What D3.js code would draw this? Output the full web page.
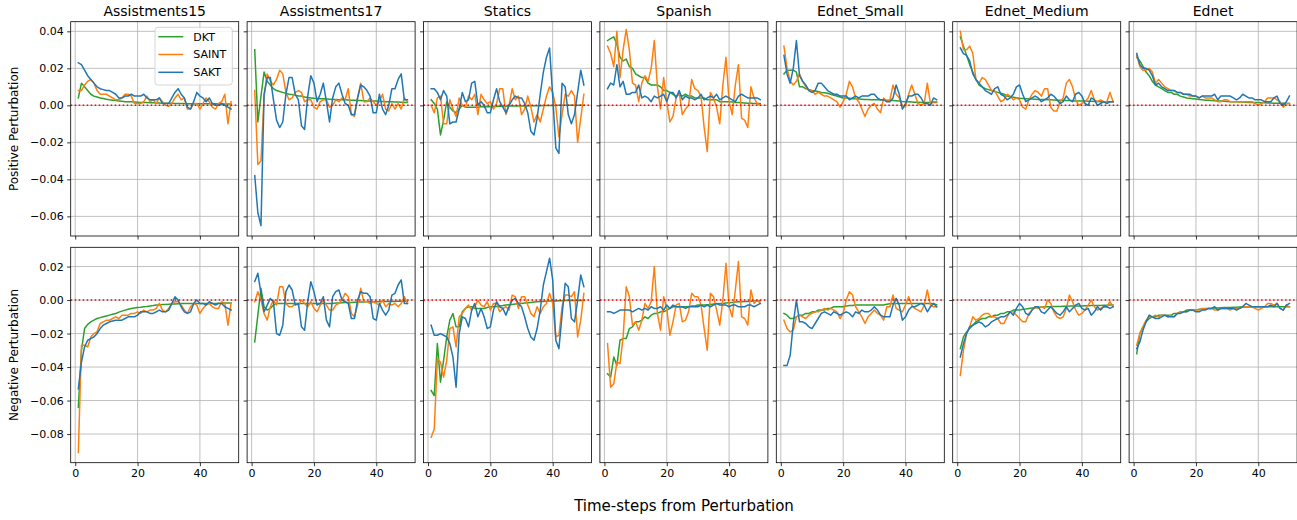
<!DOCTYPE html>
<html>
<head>
<meta charset="utf-8">
<script src="https://cdn.jsdelivr.net/npm/d3@7"></script>
<style>
  body { margin: 0; background: #fff; }
  svg { font-family: "DejaVu Sans", sans-serif; }
</style>
</head>
<body>
<div id="chart"></div>
<script>
// categories / series
var datasets = ["Assistments15", "Assistments17", "Statics", "Spanish", "Ednet_Small", "Ednet_Medium", "Ednet"];
var models = ["DKT", "SAINT", "SAKT"];
var steps = d3.range(1, 51);
var xTicks = [0, 20, 40];
var posTicks = [-0.06, -0.04, -0.02, 0, 0.02, 0.04];
var negTicks = [-0.08, -0.06, -0.04, -0.02, 0, 0.02];

// ---- Assistments15
var a15PosDKT = [0.004,0.012,0.010,0.008,0.006,0.005,0.0045,0.004,0.0037,0.0033, 0.003,0.0028,0.0026,0.0024,0.0022,0.002,0.002,0.0019,0.0018,0.0017, 0.0016,0.0015,0.0015,0.0014,0.0014,0.0013,0.0013,0.0012,0.0012,0.0011, 0.0011,0.001,0.001,0.001,0.001,0.0009,0.0009,0.0009,0.0009,0.0008, 0.0008,0.0008,0.0008,0.0008,0.0008,0.0007,0.0007,0.0007,0.0007,0.0007];
var a15PosSAINT = [0.008,0.008,0.011,0.013,0.014,0.012,0.008,0.006,0.006,0.006, 0.005,0.004,0.003,0.003,0.004,0.006,0.006,0.005,0.001,0.001, 0.001,0.002,0.005,0.002,0.003,0.001,0.004,0.002,0.000,-0.0005, 0.001,0.004,0.006,0.003,0.004,-0.002,-0.002,0.001,0.001,-0.002, 0.001,0.004,0.002,-0.001,-0.002,0.001,0.002,0.006,-0.010,0.002];
var a15PosSAKT = [0.023,0.022,0.019,0.016,0.014,0.012,0.010,0.009,0.0085,0.008, 0.008,0.007,0.006,0.004,0.004,0.005,0.005,0.006,0.005,0.005, 0.005,0.006,0.004,0.003,0.003,0.003,0.004,0.001,0.001,0.001, 0.004,0.007,0.009,0.006,0.004,-0.001,-0.002,0.002,0.007,0.005, 0.004,0.002,0.004,0.001,0.000,0.000,0.001,0.000,-0.001,-0.002];
var a15NegDKT = [-0.064,-0.030,-0.017,-0.0145,-0.013,-0.012,-0.011,-0.0105,-0.010,-0.0095, -0.009,-0.0085,-0.008,-0.0072,-0.0066,-0.006,-0.0055,-0.005,-0.0047,-0.0045, -0.0043,-0.004,-0.0038,-0.0035,-0.0033,-0.003,-0.0029,-0.0027,-0.0026,-0.0025, -0.0024,-0.0023,-0.0022,-0.0021,-0.002,-0.002,-0.002,-0.002,-0.002,-0.002, -0.002,-0.002,-0.002,-0.002,-0.002,-0.0019,-0.0019,-0.0018,-0.0018,-0.0018];
var a15NegSAINT = [-0.091,-0.027,-0.027,-0.028,-0.022,-0.020,-0.019,-0.014,-0.013,-0.012, -0.012,-0.011,-0.010,-0.011,-0.009,-0.009,-0.009,-0.008,-0.008,-0.007, -0.008,-0.006,-0.007,-0.006,-0.006,-0.005,-0.002,-0.006,-0.007,-0.005, -0.002,-0.001,-0.001,-0.003,-0.006,-0.008,-0.004,-0.002,-0.003,-0.008, -0.005,-0.003,-0.002,-0.004,-0.005,-0.005,-0.001,-0.002,-0.015,-0.002];
var a15NegSAKT = [-0.053,-0.037,-0.028,-0.024,-0.023,-0.022,-0.020,-0.017,-0.015,-0.014, -0.013,-0.0125,-0.012,-0.012,-0.012,-0.011,-0.010,-0.010,-0.010,-0.009, -0.007,-0.007,-0.007,-0.008,-0.008,-0.007,-0.006,-0.007,-0.007,-0.006, -0.002,0.002,0.000,-0.004,-0.007,-0.008,-0.007,-0.002,0.000,-0.002, -0.002,-0.003,-0.001,-0.002,-0.003,-0.002,-0.002,-0.004,-0.005,-0.006];

// ---- Assistments17
var a17PosDKT = [0.030,-0.009,0.005,0.018,0.013,0.011,0.009,0.008,0.0075,0.007, 0.0065,0.006,0.0058,0.0055,0.005,0.005,0.0045,0.0042,0.004,0.0038, 0.0037,0.0036,0.0035,0.0034,0.0033,0.0032,0.0031,0.003,0.003,0.003, 0.0029,0.0028,0.0027,0.0026,0.0026,0.0025,0.0024,0.0024,0.0023,0.0023, 0.0022,0.0021,0.002,0.002,0.0019,0.0018,0.0018,0.0017,0.0016,0.0016];
var a17PosSAINT = [0.008,-0.032,-0.030,0.005,0.017,0.013,0.011,0.014,0.019,0.017, 0.007,0.003,0.004,0.007,0.008,0.007,0.002,0.003,0.003,-0.001, -0.002,0.002,0.003,0.003,-0.001,0.000,0.003,0.002,0.004,0.003, 0.009,-0.005,-0.006,0.004,0.012,0.002,0.002,0.004,0.002,0.000, 0.002,0.006,-0.002,-0.003,0.001,-0.002,0.001,-0.002,0.004,0.002];
var a17PosSAKT = [-0.038,-0.058,-0.065,0.006,0.015,0.015,0.003,-0.008,-0.012,-0.009, 0.006,0.015,0.015,0.006,0.003,-0.011,-0.013,0.005,0.016,0.012, 0.002,0.006,0.012,0.002,-0.009,0.004,0.010,0.012,0.006,0.001, 0.000,-0.005,-0.005,0.004,0.011,0.010,0.008,0.005,-0.004,-0.004, 0.006,-0.002,-0.005,0.000,0.009,0.009,0.014,0.017,0.003,0.003];
var a17NegDKT = [-0.025,-0.009,0.007,-0.004,-0.006,-0.005,-0.003,-0.002,-0.002,-0.002, -0.002,-0.002,-0.002,-0.002,-0.002,-0.002,-0.002,-0.002,-0.002,-0.002, -0.002,-0.002,-0.002,-0.002,-0.002,-0.002,-0.0018,-0.0017,-0.0016,-0.0015, -0.0015,-0.0014,-0.0013,-0.0012,-0.0012,-0.0011,-0.001,-0.001,-0.001,-0.001, -0.001,-0.0009,-0.0009,-0.0008,-0.0008,-0.0008,-0.0007,-0.0007,-0.0007,-0.0007];
var a17NegSAINT = [-0.001,0.005,0.000,-0.008,-0.012,-0.004,0.000,-0.003,0.008,0.008, -0.002,-0.004,-0.004,-0.002,-0.003,0.000,-0.002,-0.004,-0.001,-0.005, -0.007,-0.003,0.000,-0.003,-0.006,-0.006,-0.003,-0.002,0.000,0.004, 0.002,-0.008,-0.010,-0.003,0.007,-0.001,-0.001,-0.002,-0.001,-0.002, -0.003,0.000,-0.004,-0.002,-0.003,-0.002,-0.004,-0.002,0.002,-0.002];
var a17NegSAKT = [0.011,0.016,0.004,-0.007,-0.003,0.001,-0.001,-0.020,-0.021,-0.015, 0.005,0.009,0.006,-0.003,-0.002,-0.016,-0.018,-0.001,0.011,0.005, -0.003,-0.002,0.002,-0.012,-0.016,0.002,0.005,0.006,0.000,-0.001, -0.002,-0.011,-0.011,0.000,0.005,0.004,0.004,0.002,-0.011,-0.012, -0.002,-0.006,-0.009,-0.006,0.003,0.004,0.009,0.012,-0.002,-0.002];

// ---- Statics
var stPosDKT = [0.003,0.001,-0.002,-0.016,-0.008,0.002,-0.001,-0.003,-0.004,-0.002, 0.000,-0.001,-0.001,-0.001,-0.001,-0.001,-0.0008,-0.0008,-0.0007,-0.0007, -0.0006,-0.0006,-0.0005,-0.0005,-0.0005,-0.0004,-0.0004,-0.0004,-0.0003,-0.0003, -0.0003,-0.0003,-0.0002,-0.0002,-0.0002,-0.0002,-0.0001,-0.0001,-0.0001,-0.0001, -0.0001,0,0,0,0,0,0,0,0,0];
var stPosSAINT = [0.000,-0.004,0.004,0.005,-0.010,-0.010,0.003,-0.002,-0.006,0.004, 0.000,-0.001,0.005,0.003,0.006,-0.005,0.006,0.003,0.001,0.002, -0.002,0.001,0.009,0.009,-0.005,0.000,0.009,0.003,0.005,-0.005, -0.002,0.005,-0.001,-0.009,-0.005,-0.009,-0.002,0.005,0.010,0.007, -0.001,-0.017,-0.005,0.006,0.005,0.008,0.005,-0.020,-0.007,0.006];
var stPosSAKT = [0.009,0.009,0.007,0.003,0.008,0.005,-0.010,-0.009,-0.009,-0.002, 0.007,0.002,0.003,0.012,0.013,0.000,0.002,0.000,-0.004,-0.004, 0.003,0.009,0.002,-0.001,-0.004,0.000,0.003,0.005,0.004,0.004, 0.001,-0.004,-0.014,-0.016,-0.007,0.006,0.018,0.026,0.031,0.005, -0.023,-0.026,0.012,0.010,-0.005,-0.010,-0.005,0.007,0.019,0.011];
var stNegDKT = [-0.054,-0.057,-0.026,-0.049,-0.036,-0.022,-0.012,-0.008,-0.016,-0.016, -0.007,-0.005,-0.004,-0.004,-0.005,-0.005,-0.005,-0.005,-0.0045,-0.004, -0.004,-0.0038,-0.0035,-0.0033,-0.003,-0.0028,-0.0026,-0.0024,-0.0022,-0.002, -0.0018,-0.0016,-0.0014,-0.0012,-0.001,-0.0009,-0.0008,-0.0007,-0.0006,-0.0005, -0.0005,-0.0004,-0.0004,-0.0003,-0.0003,-0.0003,-0.0002,-0.0002,-0.0002,-0.0002];
var stNegSAINT = [-0.082,-0.077,-0.035,-0.037,-0.046,-0.036,-0.017,-0.016,-0.028,-0.010, -0.008,-0.005,-0.003,-0.006,-0.004,0.000,-0.003,-0.004,-0.001,-0.006, -0.002,-0.002,-0.007,-0.005,-0.004,-0.006,0.003,0.002,-0.005,0.002, 0.002,-0.003,-0.008,-0.010,-0.004,-0.008,-0.004,-0.002,0.004,-0.002, -0.022,-0.021,-0.004,0.003,0.003,0.002,0.005,-0.022,-0.012,0.004];
var stNegSAKT = [-0.015,-0.021,-0.021,-0.020,-0.021,-0.022,-0.026,-0.034,-0.052,-0.020, -0.010,-0.011,-0.016,-0.006,-0.002,-0.010,-0.005,-0.010,-0.017,-0.016, -0.006,-0.001,-0.004,-0.005,-0.009,-0.004,0.000,0.001,-0.002,-0.004, -0.010,-0.017,-0.022,-0.024,-0.017,-0.006,0.009,0.017,0.025,0.012, -0.024,-0.029,-0.009,0.010,0.008,-0.011,-0.013,0.000,0.015,0.008];

// ---- Spanish
var spPosDKT = [0.035,0.036,0.037,0.033,0.026,0.024,0.025,0.021,0.020,0.017, 0.016,0.015,0.015,0.012,0.011,0.011,0.011,0.010,0.008,0.008, 0.007,0.006,0.005,0.006,0.005,0.006,0.005,0.005,0.004,0.004, 0.004,0.004,0.003,0.003,0.003,0.003,0.002,0.002,0.002,0.002, 0.0018,0.0016,0.0015,0.0014,0.0013,0.0012,0.0011,0.001,0.001,0.001];
var spPosSAINT = [0.032,0.028,0.021,0.040,0.015,0.030,0.041,0.030,0.012,0.011, 0.002,0.012,0.016,0.013,0.020,0.035,0.010,-0.002,0.015,0.002, -0.009,-0.006,0.004,0.007,-0.005,-0.002,0.000,0.014,0.009,0.008, 0.005,-0.012,-0.025,0.007,0.004,-0.001,-0.010,0.011,0.026,0.002, -0.005,0.011,0.022,-0.007,-0.008,-0.012,0.010,0.004,0.001,0.000];
var spPosSAKT = [0.009,0.012,0.011,0.022,0.010,0.013,0.006,0.006,0.007,0.007, 0.011,0.004,0.005,0.004,0.002,0.005,0.004,0.005,0.006,0.002, 0.007,0.007,0.004,0.008,0.003,0.005,0.004,0.004,0.003,0.004, 0.006,0.003,0.004,0.005,0.004,0.006,0.003,0.004,0.005,0.004, 0.003,0.002,0.005,0.006,0.005,0.004,0.004,0.004,0.004,0.003];
var spNegDKT = [-0.044,-0.046,-0.034,-0.039,-0.024,-0.023,-0.023,-0.017,-0.016,-0.013, -0.013,-0.012,-0.010,-0.011,-0.009,-0.008,-0.008,-0.007,-0.007,-0.006, -0.005,-0.004,-0.004,-0.004,-0.004,-0.004,-0.004,-0.0035,-0.0035,-0.003, -0.003,-0.003,-0.0028,-0.0026,-0.0024,-0.0022,-0.002,-0.002,-0.0018,-0.0016, -0.0014,-0.0012,-0.001,-0.001,-0.0008,-0.0008,-0.0007,-0.0006,-0.0006,-0.0005];
var spNegSAINT = [-0.026,-0.052,-0.050,-0.037,-0.038,-0.022,0.008,0.002,-0.015,-0.013, -0.018,-0.012,-0.002,-0.005,-0.001,0.020,-0.008,-0.018,0.002,-0.005, -0.021,-0.013,-0.003,-0.002,-0.013,-0.012,-0.007,0.004,0.002,0.002, -0.003,-0.017,-0.030,0.004,0.002,-0.006,-0.015,0.000,0.022,-0.004, -0.010,0.006,0.023,-0.010,-0.011,-0.015,0.006,-0.002,0.000,-0.002];
var spNegSAKT = [-0.007,-0.007,-0.008,-0.007,-0.006,-0.006,-0.006,-0.006,-0.007,-0.006, -0.005,-0.006,-0.005,-0.006,-0.004,-0.005,-0.005,-0.004,-0.006,-0.003, -0.005,-0.003,-0.004,-0.004,-0.004,-0.005,-0.004,-0.004,-0.004,-0.004, -0.003,-0.004,-0.003,-0.004,-0.003,-0.002,-0.003,-0.003,-0.003,-0.004, -0.003,-0.003,-0.004,-0.004,-0.004,-0.003,-0.003,-0.004,-0.003,-0.002];

// ---- Ednet_Small
var esPosDKT = [0.017,0.019,0.019,0.019,0.018,0.010,0.010,0.009,0.0085,0.008, 0.0078,0.0075,0.007,0.0068,0.0065,0.006,0.0055,0.005,0.0045,0.004, 0.004,0.0038,0.0036,0.0035,0.0034,0.0033,0.0032,0.0031,0.003,0.003, 0.003,0.003,0.0029,0.0028,0.0027,0.0026,0.0025,0.0023,0.0021,0.002, 0.0019,0.0018,0.0017,0.0017,0.0016,0.0016,0.0016,0.0016,0.0016,0.0016];
var esPosSAINT = [0.032,0.020,0.013,0.011,0.013,0.017,0.013,0.010,0.008,0.008, 0.006,0.007,0.006,0.005,0.005,0.004,0.003,0.002,-0.001,0.002, 0.006,0.013,0.010,0.004,0.002,-0.002,-0.006,-0.002,0.000,0.001, -0.002,-0.004,0.004,0.002,0.003,0.011,0.006,0.004,0.000,-0.001, 0.006,0.011,0.006,0.001,0.000,0.001,0.012,0.001,0.002,0.002];
var esPosSAKT = [0.027,0.017,0.012,0.020,0.035,0.016,0.013,0.011,0.008,0.007, 0.008,0.012,0.012,0.010,0.008,0.007,0.006,0.006,0.005,0.005, 0.005,0.003,0.004,0.005,0.004,0.005,0.005,0.005,0.006,0.006, 0.004,0.003,0.003,0.002,0.002,0.004,0.011,0.006,-0.002,0.001, 0.005,0.005,0.006,0.006,0.004,0.001,0.001,0.000,0.004,0.003];
var esNegDKT = [-0.008,-0.009,-0.011,-0.011,-0.010,-0.009,-0.009,-0.008,-0.008,-0.007, -0.007,-0.006,-0.006,-0.006,-0.005,-0.005,-0.004,-0.004,-0.004,-0.004, -0.0035,-0.0033,-0.0032,-0.003,-0.003,-0.003,-0.003,-0.003,-0.003,-0.003, -0.003,-0.003,-0.003,-0.0025,-0.0022,-0.002,-0.002,-0.002,-0.002,-0.002, -0.002,-0.002,-0.002,-0.002,-0.002,-0.002,-0.002,-0.002,-0.0022,-0.0028];
var esNegSAINT = [-0.012,-0.017,-0.019,-0.018,-0.010,-0.009,-0.010,-0.011,-0.009,-0.008, -0.007,-0.007,-0.006,-0.005,-0.006,-0.005,-0.006,-0.007,-0.011,-0.008, 0.000,0.005,0.003,-0.004,-0.007,-0.010,-0.014,-0.010,-0.008,-0.006, -0.008,-0.009,-0.012,-0.004,-0.004,0.003,-0.005,-0.006,-0.007,-0.003, 0.002,-0.003,-0.005,-0.006,-0.007,-0.003,0.006,-0.003,-0.004,-0.004];
var esNegSAKT = [-0.039,-0.039,-0.033,-0.014,0.000,-0.013,-0.013,-0.014,-0.016,-0.017, -0.014,-0.011,-0.008,-0.007,-0.008,-0.009,-0.007,-0.008,-0.009,-0.008, -0.007,-0.008,-0.010,-0.007,-0.008,-0.006,-0.007,-0.007,-0.006,-0.004, -0.006,-0.009,-0.010,-0.010,-0.010,-0.003,0.001,-0.003,-0.012,-0.010, -0.006,-0.004,-0.004,-0.003,-0.002,-0.003,-0.007,-0.004,-0.002,-0.004];

// ---- Ednet_Medium
var emPosDKT = [0.037,0.032,0.027,0.022,0.018,0.014,0.011,0.010,0.009,0.0085, 0.008,0.0075,0.007,0.0065,0.006,0.005,0.0047,0.0044,0.0041,0.0038, 0.0037,0.0036,0.0035,0.0034,0.0033,0.0032,0.0031,0.0031,0.003,0.003, 0.0029,0.0028,0.0028,0.0027,0.0026,0.0026,0.0025,0.0024,0.0024,0.0023, 0.0023,0.0022,0.0022,0.0021,0.0021,0.002,0.002,0.002,0.002,0.002];
var emPosSAINT = [0.040,0.030,0.030,0.032,0.028,0.014,0.012,0.015,0.014,0.011, 0.008,0.008,0.005,0.002,0.003,0.006,0.005,0.003,0.004,0.003, -0.001,-0.002,0.003,0.006,0.008,0.007,0.005,0.009,0.009,-0.001, -0.003,-0.003,0.002,0.004,0.012,0.014,0.010,0.003,0.000,0.001, 0.002,0.004,0.008,0.003,0.002,0.003,0.002,0.002,0.007,0.002];
var emPosSAKT = [0.031,0.028,0.027,0.024,0.017,0.014,0.012,0.010,0.008,0.007, 0.006,0.009,0.010,0.006,0.005,0.003,0.004,0.006,0.010,0.011, 0.006,0.002,0.003,0.004,0.005,0.004,0.002,0.003,0.004,0.006, 0.005,0.003,0.001,0.002,0.005,0.003,0.002,0.006,0.007,0.005, 0.001,0.000,0.004,0.003,0.000,0.001,0.002,0.001,0.002,0.002];
var emNegDKT = [-0.029,-0.022,-0.019,-0.017,-0.015,-0.013,-0.012,-0.011,-0.011,-0.010, -0.010,-0.009,-0.009,-0.008,-0.008,-0.007,-0.007,-0.006,-0.006,-0.006, -0.0055,-0.0053,-0.005,-0.0048,-0.0046,-0.0044,-0.0042,-0.0041,-0.004,-0.004, -0.0039,-0.0038,-0.0038,-0.0037,-0.0037,-0.0036,-0.0036,-0.0035,-0.0035,-0.0035, -0.0034,-0.0034,-0.0033,-0.0033,-0.0032,-0.0032,-0.0031,-0.0031,-0.003,-0.003];
var emNegSAINT = [-0.045,-0.030,-0.020,-0.016,-0.010,-0.012,-0.011,-0.009,-0.008,-0.008, -0.010,-0.010,-0.011,-0.014,-0.014,-0.010,-0.007,-0.007,-0.009,-0.011, -0.013,-0.013,-0.008,-0.006,-0.004,-0.005,-0.004,-0.005,0.000,-0.002, -0.007,-0.010,-0.011,-0.010,-0.005,0.003,-0.001,-0.006,-0.009,-0.008, -0.006,-0.003,0.000,-0.004,-0.006,-0.005,-0.004,-0.004,-0.001,-0.004];
var emNegSAKT = [-0.034,-0.026,-0.020,-0.016,-0.015,-0.014,-0.013,-0.014,-0.016,-0.015, -0.013,-0.012,-0.011,-0.010,-0.010,-0.009,-0.007,-0.009,-0.005,-0.002, -0.004,-0.008,-0.009,-0.006,-0.004,-0.004,-0.007,-0.008,-0.006,-0.004, -0.006,-0.008,-0.009,-0.007,-0.004,-0.007,-0.005,-0.003,-0.002,-0.005, -0.006,-0.005,-0.009,-0.007,-0.004,-0.006,-0.004,-0.004,-0.005,-0.004];

// ---- Ednet
var edPosDKT = [0.026,0.024,0.021,0.018,0.016,0.013,0.011,0.010,0.009,0.008, 0.007,0.007,0.006,0.006,0.005,0.0045,0.004,0.0038,0.0036,0.0034, 0.0032,0.003,0.0028,0.0027,0.0026,0.0025,0.0024,0.0023,0.0022,0.0021, 0.002,0.002,0.0019,0.0018,0.0018,0.0017,0.0016,0.0016,0.0015,0.0015, 0.0014,0.0014,0.0013,0.0013,0.0012,0.0012,0.0011,0.0011,0.001,0.001];
var edPosSAINT = [0.027,0.021,0.019,0.019,0.020,0.018,0.012,0.014,0.012,0.010, 0.009,0.008,0.008,0.007,0.007,0.006,0.006,0.005,0.005,0.005, 0.004,0.005,0.004,0.004,0.004,0.003,0.002,0.002,0.003,0.003, 0.002,0.002,0.002,0.002,0.002,0.002,0.002,0.002,0.001,0.000, 0.001,0.002,0.004,0.004,0.004,0.003,0.002,-0.001,0.001,0.001];
var edPosSAKT = [0.028,0.022,0.020,0.020,0.019,0.016,0.011,0.012,0.010,0.009, 0.008,0.008,0.008,0.007,0.007,0.006,0.006,0.006,0.005,0.005, 0.004,0.005,0.005,0.005,0.005,0.006,0.003,0.005,0.005,0.005, 0.005,0.004,0.003,0.004,0.006,0.005,0.004,0.004,0.003,0.003, 0.003,0.002,0.002,0.002,0.004,0.005,0.001,0.000,0.002,0.005];
var edNegDKT = [-0.032,-0.020,-0.016,-0.013,-0.011,-0.010,-0.010,-0.009,-0.009,-0.009, -0.009,-0.009,-0.008,-0.008,-0.007,-0.007,-0.006,-0.006,-0.006,-0.006, -0.0055,-0.0053,-0.0052,-0.005,-0.005,-0.0048,-0.0047,-0.0046,-0.0045,-0.0045, -0.0044,-0.0043,-0.0043,-0.0042,-0.0042,-0.0041,-0.0041,-0.004,-0.004,-0.004, -0.004,-0.004,-0.004,-0.004,-0.004,-0.004,-0.004,-0.004,-0.004,-0.004];
var edNegSAINT = [-0.027,-0.020,-0.016,-0.012,-0.010,-0.010,-0.009,-0.010,-0.009,-0.009, -0.010,-0.009,-0.010,-0.008,-0.007,-0.007,-0.007,-0.006,-0.006,-0.006, -0.006,-0.005,-0.005,-0.005,-0.005,-0.006,-0.006,-0.005,-0.005,-0.005, -0.006,-0.005,-0.005,-0.005,-0.004,-0.004,-0.004,-0.004,-0.005,-0.006, -0.005,-0.004,-0.002,-0.002,-0.003,-0.002,-0.005,-0.006,-0.003,-0.004];
var edNegSAKT = [-0.029,-0.025,-0.018,-0.013,-0.009,-0.010,-0.011,-0.011,-0.010,-0.009, -0.010,-0.010,-0.010,-0.008,-0.008,-0.007,-0.007,-0.006,-0.006,-0.007, -0.007,-0.006,-0.006,-0.005,-0.005,-0.004,-0.006,-0.005,-0.005,-0.005, -0.005,-0.005,-0.006,-0.005,-0.004,-0.002,-0.003,-0.004,-0.004,-0.004, -0.004,-0.004,-0.004,-0.003,-0.004,-0.002,-0.005,-0.006,-0.003,-0.002];

// lookup built from the arrays above
var table = {
  "Assistments15": {pos: [a15PosDKT, a15PosSAINT, a15PosSAKT], neg: [a15NegDKT, a15NegSAINT, a15NegSAKT]},
  "Assistments17": {pos: [a17PosDKT, a17PosSAINT, a17PosSAKT], neg: [a17NegDKT, a17NegSAINT, a17NegSAKT]},
  "Statics":       {pos: [stPosDKT, stPosSAINT, stPosSAKT], neg: [stNegDKT, stNegSAINT, stNegSAKT]},
  "Spanish":       {pos: [spPosDKT, spPosSAINT, spPosSAKT], neg: [spNegDKT, spNegSAINT, spNegSAKT]},
  "Ednet_Small":   {pos: [esPosDKT, esPosSAINT, esPosSAKT], neg: [esNegDKT, esNegSAINT, esNegSAKT]},
  "Ednet_Medium":  {pos: [emPosDKT, emPosSAINT, emPosSAKT], neg: [emNegDKT, emNegSAINT, emNegSAKT]},
  "Ednet":         {pos: [edPosDKT, edPosSAINT, edPosSAKT], neg: [edNegDKT, edNegSAINT, edNegSAKT]}
};

var colors = {DKT: "#2ca02c", SAINT: "#ff7f0e", SAKT: "#1f77b4"};

var width = 1297, height = 520;
var svg = d3.select("#chart").append("svg")
  .attr("width", width)
  .attr("height", height);

var panelW = 168, left0 = 70.7, colStep = 176.4;
var rows = [
  {key: "pos", top: 21.7, bottom: 236, ylim: [-0.0706, 0.0452], ticks: posTicks, label: "Positive Perturbation"},
  {key: "neg", top: 247.3, bottom: 462.7, ylim: [-0.0971, 0.0315], ticks: negTicks, label: "Negative Perturbation"}
];

var fmt = d3.format(".2f");

datasets.forEach(function (name, c) {
  var left = left0 + c * colStep;
  var x = d3.scaleLinear().domain([-1.45, 52.45]).range([left, left + panelW]);

  rows.forEach(function (row, r) {
    var y = d3.scaleLinear().domain(row.ylim).range([row.bottom, row.top]);
    var g = svg.append("g");
    var clipId = "clip" + c + "_" + r;
    g.append("clipPath").attr("id", clipId).append("rect")
      .attr("x", left).attr("y", row.top)
      .attr("width", panelW).attr("height", row.bottom - row.top);

    // grid
    g.selectAll(".vg").data(xTicks).enter().append("line")
      .attr("x1", function (d) { return x(d); })
      .attr("x2", function (d) { return x(d); })
      .attr("y1", row.top).attr("y2", row.bottom)
      .attr("stroke", "#b0b0b0").attr("stroke-width", 0.8);
    g.selectAll(".hg").data(row.ticks).enter().append("line")
      .attr("x1", left).attr("x2", left + panelW)
      .attr("y1", function (d) { return y(d); })
      .attr("y2", function (d) { return y(d); })
      .attr("stroke", "#b0b0b0").attr("stroke-width", 0.8);

    // series
    var line = d3.line()
      .x(function (d, i) { return x(steps[i]); })
      .y(function (d) { return y(d); });
    var plot = g.append("g").attr("clip-path", "url(#" + clipId + ")");
    models.forEach(function (m, k) {
      plot.append("path")
        .datum(table[name][row.key][k])
        .attr("d", line)
        .attr("fill", "none")
        .attr("stroke", colors[m])
        .attr("stroke-width", 1.5)
        .attr("stroke-linejoin", "round")
        .attr("stroke-linecap", "square");
    });

    // zero reference
    plot.append("line")
      .attr("x1", left).attr("x2", left + panelW)
      .attr("y1", y(0)).attr("y2", y(0))
      .attr("stroke", "#ff0000").attr("stroke-width", 1.5)
      .attr("stroke-dasharray", "1.5,2.5");

    // axes
    var yAxis = d3.axisLeft(y).tickValues(row.ticks).tickSize(3.5).tickPadding(3.5)
      .tickFormat(c === 0 ? fmt : "");
    var ya = g.append("g").attr("transform", "translate(" + left + ",0)").call(yAxis);
    var xAxis = d3.axisBottom(x).tickValues(xTicks).tickSize(3.5).tickPadding(3.5)
      .tickFormat(r === 1 ? d3.format("d") : "");
    var xa = g.append("g").attr("transform", "translate(0," + row.bottom + ")").call(xAxis);
    [ya, xa].forEach(function (a) {
      a.select(".domain").remove();
      a.selectAll(".tick line").attr("stroke", "#000").attr("stroke-width", 0.8);
      a.selectAll("text").attr("font-size", 11).attr("font-family", "DejaVu Sans").attr("fill", "#000");
    });

    // frame
    g.append("rect")
      .attr("x", left).attr("y", row.top)
      .attr("width", panelW).attr("height", row.bottom - row.top)
      .attr("fill", "none").attr("stroke", "#000").attr("stroke-width", 0.8);

    if (r === 0) {
      svg.append("text")
        .attr("x", left + panelW / 2).attr("y", 15.5)
        .attr("text-anchor", "middle")
        .attr("font-size", 14)
        .text(name);
    }
  });
});

// row labels
rows.forEach(function (row) {
  svg.append("text")
    .attr("transform", "translate(18," + ((row.top + row.bottom) / 2) + ") rotate(-90)")
    .attr("text-anchor", "middle")
    .attr("font-size", 12)
    .text(row.label);
});

svg.append("text")
  .attr("x", 684).attr("y", 511)
  .attr("text-anchor", "middle")
  .attr("font-size", 15)
  .text("Time-steps from Perturbation");

// legend in first panel
var lg = svg.append("g").attr("transform", "translate(155,27.3)");
lg.append("rect")
  .attr("width", 77.3).attr("height", 57.7).attr("rx", 3)
  .attr("fill", "#fff").attr("fill-opacity", 0.8)
  .attr("stroke", "#cccccc").attr("stroke-width", 0.8);
models.forEach(function (m, k) {
  var ly = 9.4 + k * 17.8;
  lg.append("line")
    .attr("x1", 3.3).attr("x2", 28.3)
    .attr("y1", ly).attr("y2", ly)
    .attr("stroke", colors[m]).attr("stroke-width", 1.5);
  lg.append("text")
    .attr("x", 38.3).attr("y", ly).attr("dy", "0.36em")
    .attr("font-size", 11)
    .text(m);
});
</script>
</body>
</html>
